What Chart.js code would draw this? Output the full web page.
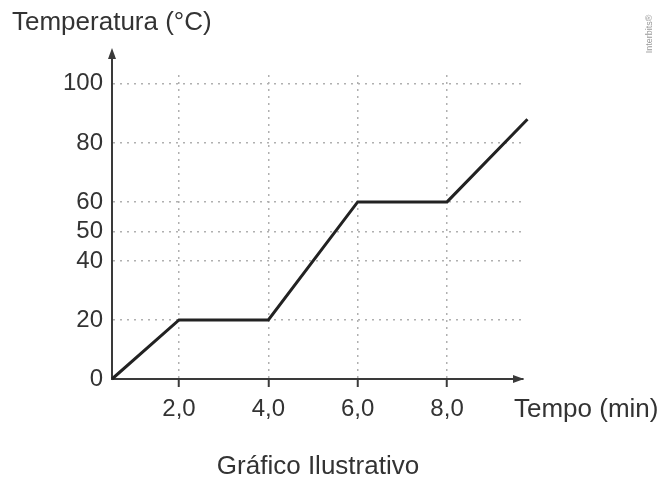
<!DOCTYPE html>
<html lang="pt">
	<head>
		<meta charset="UTF-8" />
		<title>Gráfico Ilustrativo</title>
		<script src="https://cdn.jsdelivr.net/npm/chart.js@4.4.0/dist/chart.umd.min.js"></script>
		<style>
			body { margin: 0; background: #fff; }
		</style>
	</head>
	<body>
		<canvas id="tempChart" width="659" height="480"></canvas>

		<script>
			// dados
			const tempo = [0.5, 2, 4, 6, 8, 9.8];
			const temperatura = [0, 20, 20, 60, 60, 88];
			const xTicks = [2, 4, 6, 8];
			const yTicks = [0, 20, 40, 50, 60, 80, 100];

			const axisColor = "#3a3a3a";
			const textColor = "#333";
			const gridColor = "#b0b0b0";

			Chart.defaults.font.family = "'Liberation Sans', Arial, sans-serif";
			Chart.defaults.font.size = 24;
			Chart.defaults.color = textColor;

			// setas dos eixos e textos soltos
			const extras = {
				id: "extras",
				afterDraw(chart) {
					const { ctx, chartArea: a } = chart;
					ctx.save();
					ctx.strokeStyle = axisColor;
					ctx.fillStyle = axisColor;
					ctx.lineWidth = 2;
					ctx.beginPath();
					ctx.moveTo(a.left, a.top);
					ctx.lineTo(a.left, 56);
					ctx.stroke();
					ctx.beginPath();
					ctx.moveTo(a.left, 48);
					ctx.lineTo(a.left - 4, 59);
					ctx.lineTo(a.left + 4, 59);
					ctx.closePath();
					ctx.fill();
					ctx.beginPath();
					ctx.moveTo(a.right + 1, a.bottom);
					ctx.lineTo(a.right - 10, a.bottom - 4);
					ctx.lineTo(a.right - 10, a.bottom + 4);
					ctx.closePath();
					ctx.fill();

					ctx.fillStyle = textColor;
					ctx.font = "26px 'Liberation Sans', Arial, sans-serif";
					ctx.textBaseline = "middle";
					ctx.textAlign = "left";
					ctx.fillText("Temperatura (°C)", 12, 23);
					ctx.fillText("Tempo (min)", 514, 410);
					ctx.textAlign = "center";
					ctx.fillText("Gráfico Ilustrativo", 318, 467);

					ctx.translate(650, 34);
					ctx.rotate(-Math.PI / 2);
					ctx.font = "9px 'Liberation Sans', Arial, sans-serif";
					ctx.fillStyle = "#999";
					ctx.fillText("Interbits®", 0, 0);
					ctx.restore();
				},
			};

			const ctx = document.getElementById("tempChart").getContext("2d");
			const myChart = new Chart(ctx, {
				type: "line",
				data: {
					datasets: [
						{
							data: tempo.map((t, i) => ({ x: t, y: temperatura[i] })),
							borderColor: "#222",
							borderWidth: 3,
							pointRadius: 0,
							tension: 0,
							clip: false,
						},
					],
				},
				options: {
					responsive: false,
					animation: false,
					layout: { padding: { left: 0, top: 75, right: 136, bottom: 0 } },
					plugins: {
						legend: { display: false },
						tooltip: { enabled: false },
					},
					scales: {
						x: {
							type: "linear",
							min: 0.5,
							max: 9.7,
							afterBuildTicks: (s) => {
								s.ticks = xTicks.map((v) => ({ value: v }));
							},
							afterFit: (s) => {
								s.height = 101;
							},
							ticks: {
								padding: 8,
								callback: (v) => v.toFixed(1).replace(".", ","),
							},
							grid: {
								color: gridColor,
								lineWidth: 1.5,
								tickColor: axisColor,
								tickWidth: 2,
								tickLength: 8,
							},
							border: { color: axisColor, width: 2, dash: [2, 5] },
						},
						y: {
							min: 0,
							max: 103,
							afterBuildTicks: (s) => {
								s.ticks = yTicks.map((v) => ({ value: v }));
							},
							afterFit: (s) => {
								s.width = 112;
							},
							ticks: { padding: 9 },
							grid: {
								color: gridColor,
								lineWidth: 1.5,
								drawTicks: false,
							},
							border: { color: axisColor, width: 2, dash: [2, 5] },
						},
					},
				},
				plugins: [extras],
			});
		</script>
	</body>
</html>
